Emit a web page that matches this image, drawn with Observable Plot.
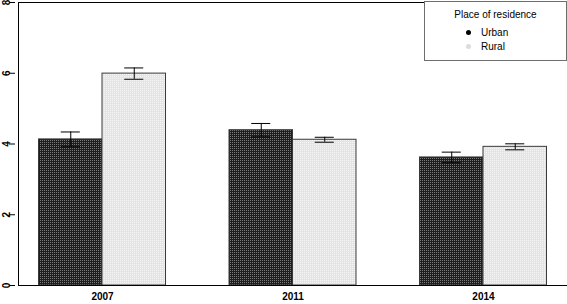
<!DOCTYPE html>
<html><head><meta charset="utf-8">
<script src="https://cdn.jsdelivr.net/npm/d3@7"></script>
<script src="https://cdn.jsdelivr.net/npm/@observablehq/plot@0.6"></script>
<style>
body{margin:0;background:#fff;}
#wrap{position:relative;width:567px;height:304px;font-family:"Liberation Sans",Arial,sans-serif;}
#legend{position:absolute;left:424px;top:1px;width:141px;height:58px;border:1px solid #6e6e6e;background:#fff;font-size:10px;color:#000;}
#legend .title{position:absolute;left:0;right:0;top:7px;text-align:center;}
#legend .item{position:absolute;left:56px;}
#legend .dot{position:absolute;left:-15px;top:3px;width:5px;height:5px;border-radius:50%;}
.ax text{font-weight:bold;}
</style></head>
<body><div id="wrap"></div>
<script>
const years = ["2007", "2011", "2014"];
const residences = ["Urban", "Rural"];
const urbanMeans = [4.13, 4.39, 3.62];
const ruralMeans = [5.99, 4.12, 3.92];
const urbanErr = [0.21, 0.19, 0.15];
const ruralErr = [0.16, 0.07, 0.085];
const yTicks = [0, 2, 4, 6, 8];
const legendColors = ["#000000", "#dcdcdc"];

const fills = {Urban: "url(#patUrban)", Rural: "url(#patRural)"};
const stride = residences.length + 1;
const rows = [];
years.forEach((yr, i) => {
  residences.forEach((r, j) => {
    const mean = r === "Urban" ? urbanMeans[i] : ruralMeans[i];
    const err = r === "Urban" ? urbanErr[i] : ruralErr[i];
    const s = i * stride + j;
    rows.push({year: yr, residence: r, mean, lo: mean - err, hi: mean + err,
      x1: s, x2: s + 1, xc: s + 0.5, c1: s + 0.35, c2: s + 0.65, fill: fills[r]});
  });
});
const pad = 0.323;
const xDomain = [-pad, years.length * stride - 1 + pad];
const centers = years.map((_, i) => i * stride + residences.length / 2);

const plot = Plot.plot({
  width: 567, height: 304,
  marginLeft: 18, marginRight: 0, marginTop: 2, marginBottom: 19,
  style: {fontFamily: '"Liberation Sans", Arial, sans-serif', fontSize: "10px", color: "#000"},
  x: {type: "linear", domain: xDomain, axis: null},
  y: {domain: [0, 8], axis: null},
  marks: [
    Plot.rectY(rows, {x1: "x1", x2: "x2", y: "mean", fill: "fill", stroke: "#3a3a3a", strokeWidth: 1}),
    Plot.ruleX(rows, {x: "xc", y1: "lo", y2: "hi", stroke: "#000", strokeWidth: 1}),
    Plot.ruleY(rows, {y: "hi", x1: "c1", x2: "c2", stroke: "#000", strokeWidth: 1}),
    Plot.ruleY(rows, {y: "lo", x1: "c1", x2: "c2", stroke: "#000", strokeWidth: 1}),
    Plot.ruleY([0], {stroke: "#000"}),
    Plot.ruleY([8], {stroke: "#000"}),
    Plot.ruleX([xDomain[0]], {stroke: "#000"}),
    Plot.axisY(yTicks, {anchor: "left", tickSize: 6, tickPadding: 0, tickRotate: -90, fontSize: 10, dx: -3, className: "ax"}),
    Plot.axisX(centers, {anchor: "bottom", tickSize: 0, tickPadding: 7, fontSize: 10, tickFormat: d => years[centers.indexOf(d)], className: "ax"})
  ]
});

const svg = d3.select(plot);
const defs = svg.insert("defs", ":first-child");
const pu = defs.append("pattern").attr("id", "patUrban").attr("patternUnits", "userSpaceOnUse").attr("width", 2).attr("height", 2);
pu.append("rect").attr("width", 2).attr("height", 2).attr("fill", "#1e1e1e");
pu.append("rect").attr("width", 1).attr("height", 1).attr("fill", "#7a7a7a");
const pr = defs.append("pattern").attr("id", "patRural").attr("patternUnits", "userSpaceOnUse").attr("width", 2).attr("height", 2);
pr.append("rect").attr("width", 2).attr("height", 2).attr("fill", "#e4e4e4");
pr.append("rect").attr("width", 1).attr("height", 1).attr("fill", "#f6f6f6");

const wrap = document.getElementById("wrap");
wrap.appendChild(plot);

const leg = document.createElement("div");
leg.id = "legend";
const t = document.createElement("div");
t.className = "title";
t.textContent = "Place of residence";
leg.appendChild(t);
residences.forEach((r, k) => {
  const it = document.createElement("div");
  it.className = "item";
  it.style.top = (25 + k * 14) + "px";
  const dot = document.createElement("span");
  dot.className = "dot";
  dot.style.background = legendColors[k];
  it.appendChild(dot);
  it.appendChild(document.createTextNode(r));
  leg.appendChild(it);
});
wrap.appendChild(leg);
</script>
</body></html>
